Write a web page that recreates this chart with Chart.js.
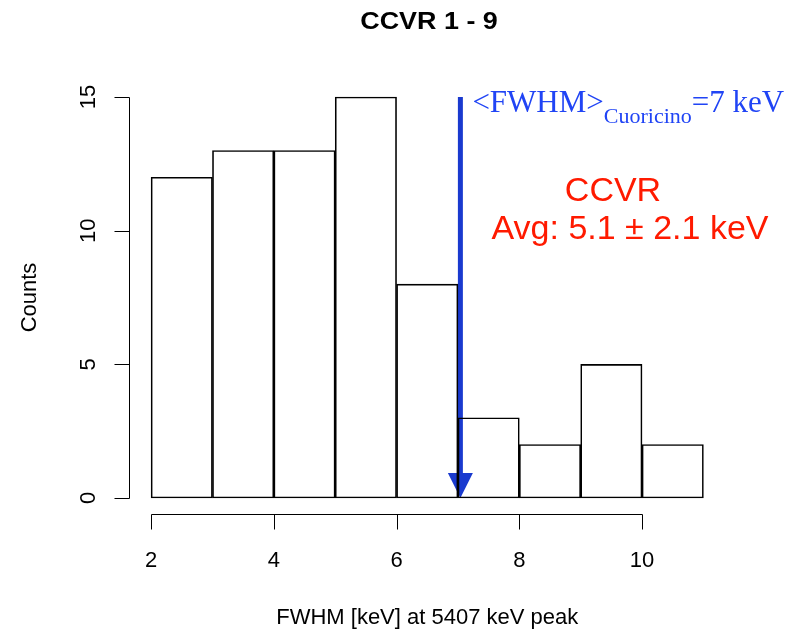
<!DOCTYPE html>
<html>
<head>
<meta charset="utf-8">
<script src="https://cdn.jsdelivr.net/npm/chart.js@4/dist/chart.umd.min.js"></script>
<style>
  body { margin: 0; background: #fff; }
  canvas { display: block; }
</style>
</head>
<body>
<canvas id="histChart" width="788" height="629"></canvas>
<script>
// histogram data
const binEdges = [2, 3, 4, 5, 6, 7, 8, 9, 10, 11];
const counts = [12, 13, 13, 15, 8, 3, 2, 5, 2];
const xTicks = [2, 4, 6, 8, 10];
const yTicks = [0, 5, 10, 15];
const arrowX = 7.04;      // <FWHM> Cuoricino marker
const arrowTop = 15;

const titleText = 'CCVR 1 - 9';
const xTitle = 'FWHM [keV] at 5407 keV peak';
const yTitle = 'Counts';

const blue = '#2044f5';
const arrowBlue = '#1a3acf';
const red = '#ff1a00';

const sans = '"Liberation Sans", Arial, sans-serif';
const serif = '"Liberation Serif", "Times New Roman", serif';

// bin centres for the bars
const histData = counts.map((c, i) => ({
    x: (binEdges[i] + binEdges[i + 1]) / 2,
    y: c
}));

// R-like axes, labels and annotations
const decorPlugin = {
    id: 'decor',
    beforeDatasetsDraw(chart) {
        const ctx = chart.ctx;
        const xs = chart.scales.x, ys = chart.scales.y;
        const px = xs.getPixelForValue(arrowX);
        const yTop = ys.getPixelForValue(arrowTop);
        const yTip = ys.getPixelForValue(0);
        const headH = 25, headW = 25;
        ctx.save();
        ctx.strokeStyle = arrowBlue;
        ctx.fillStyle = arrowBlue;
        ctx.lineWidth = 5;
        ctx.beginPath();
        ctx.moveTo(px, yTop);
        ctx.lineTo(px, yTip - headH + 2);
        ctx.stroke();
        ctx.beginPath();
        ctx.moveTo(px, yTip);
        ctx.lineTo(px - headW / 2, yTip - headH);
        ctx.lineTo(px + headW / 2, yTip - headH);
        ctx.closePath();
        ctx.fill();
        ctx.restore();
    },
    afterDraw(chart) {
        const ctx = chart.ctx;
        const xs = chart.scales.x, ys = chart.scales.y;
        const area = chart.chartArea;
        ctx.save();
        ctx.strokeStyle = '#000';
        ctx.fillStyle = '#000';
        ctx.lineWidth = 1;

        // x axis
        const axY = Math.round(area.bottom) + 0.5;
        const x0 = xs.getPixelForValue(xTicks[0]);
        const x1 = xs.getPixelForValue(xTicks[xTicks.length - 1]);
        ctx.beginPath();
        ctx.moveTo(Math.round(x0) + 0.5, axY);
        ctx.lineTo(Math.round(x1) + 0.5, axY);
        xTicks.forEach(t => {
            const p = Math.round(xs.getPixelForValue(t)) + 0.5;
            ctx.moveTo(p, axY);
            ctx.lineTo(p, axY + 15);
        });
        ctx.stroke();

        ctx.font = '22px ' + sans;
        ctx.textAlign = 'center';
        ctx.textBaseline = 'alphabetic';
        xTicks.forEach(t => {
            ctx.fillText(String(t), xs.getPixelForValue(t), 567);
        });
        ctx.fillText(xTitle, (area.left + area.right) / 2, 624);

        // y axis
        const axX = Math.round(area.left) + 0.5;
        const y0 = ys.getPixelForValue(yTicks[0]);
        const y1 = ys.getPixelForValue(yTicks[yTicks.length - 1]);
        ctx.beginPath();
        ctx.moveTo(axX, Math.round(y0) + 0.5);
        ctx.lineTo(axX, Math.round(y1) + 0.5);
        yTicks.forEach(t => {
            const p = Math.round(ys.getPixelForValue(t)) + 0.5;
            ctx.moveTo(axX, p);
            ctx.lineTo(axX - 15, p);
        });
        ctx.stroke();

        yTicks.forEach(t => {
            ctx.save();
            ctx.translate(95, ys.getPixelForValue(t));
            ctx.rotate(-Math.PI / 2);
            ctx.fillText(String(t), 0, 0);
            ctx.restore();
        });
        ctx.save();
        ctx.translate(36, (area.top + area.bottom) / 2);
        ctx.rotate(-Math.PI / 2);
        ctx.fillText(yTitle, 0, 0);
        ctx.restore();

        // main title
        ctx.save();
        ctx.font = 'bold 23px ' + sans;
        ctx.translate(429, 29);
        ctx.scale(1.17, 1);
        ctx.fillText(titleText, 0, 0);
        ctx.restore();

        // blue annotation
        ctx.textAlign = 'left';
        ctx.fillStyle = blue;
        let tx = xs.getPixelForValue(arrowX) + 12;
        ctx.font = '31px ' + serif;
        ctx.fillText('<FWHM>', tx, 112);
        tx += ctx.measureText('<FWHM>').width;
        ctx.font = '22px ' + serif;
        ctx.fillText('Cuoricino', tx, 123);
        tx += ctx.measureText('Cuoricino').width;
        ctx.font = '31px ' + serif;
        ctx.fillText('=7 keV', tx, 112);

        // red annotation
        ctx.textAlign = 'center';
        ctx.fillStyle = red;
        ctx.font = '34px ' + sans;
        ctx.fillText('CCVR', 613, 201);
        ctx.fillText('Avg: 5.1 \u00b1 2.1 keV', 630, 239);

        ctx.restore();
    }
};

const ctx = document.getElementById('histChart').getContext('2d');
const histChart = new Chart(ctx, {
    type: 'bar',
    data: {
        datasets: [{
            data: histData,
            backgroundColor: 'rgba(0,0,0,0)',
            borderColor: '#000',
            borderWidth: 1,
            borderSkipped: false,
            barPercentage: 1,
            categoryPercentage: 1
        }]
    },
    options: {
        responsive: false,
        animation: false,
        events: [],
        layout: {
            padding: { left: 129, right: 62.5, top: 81, bottom: 115 }
        },
        plugins: {
            legend: { display: false },
            title: { display: false },
            tooltip: { enabled: false }
        },
        scales: {
            x: { type: 'linear', min: 1.64, max: 11.36, offset: false, display: false },
            y: { type: 'linear', min: -0.6, max: 15.6, display: false }
        }
    },
    plugins: [decorPlugin]
});
</script>
</body>
</html>
